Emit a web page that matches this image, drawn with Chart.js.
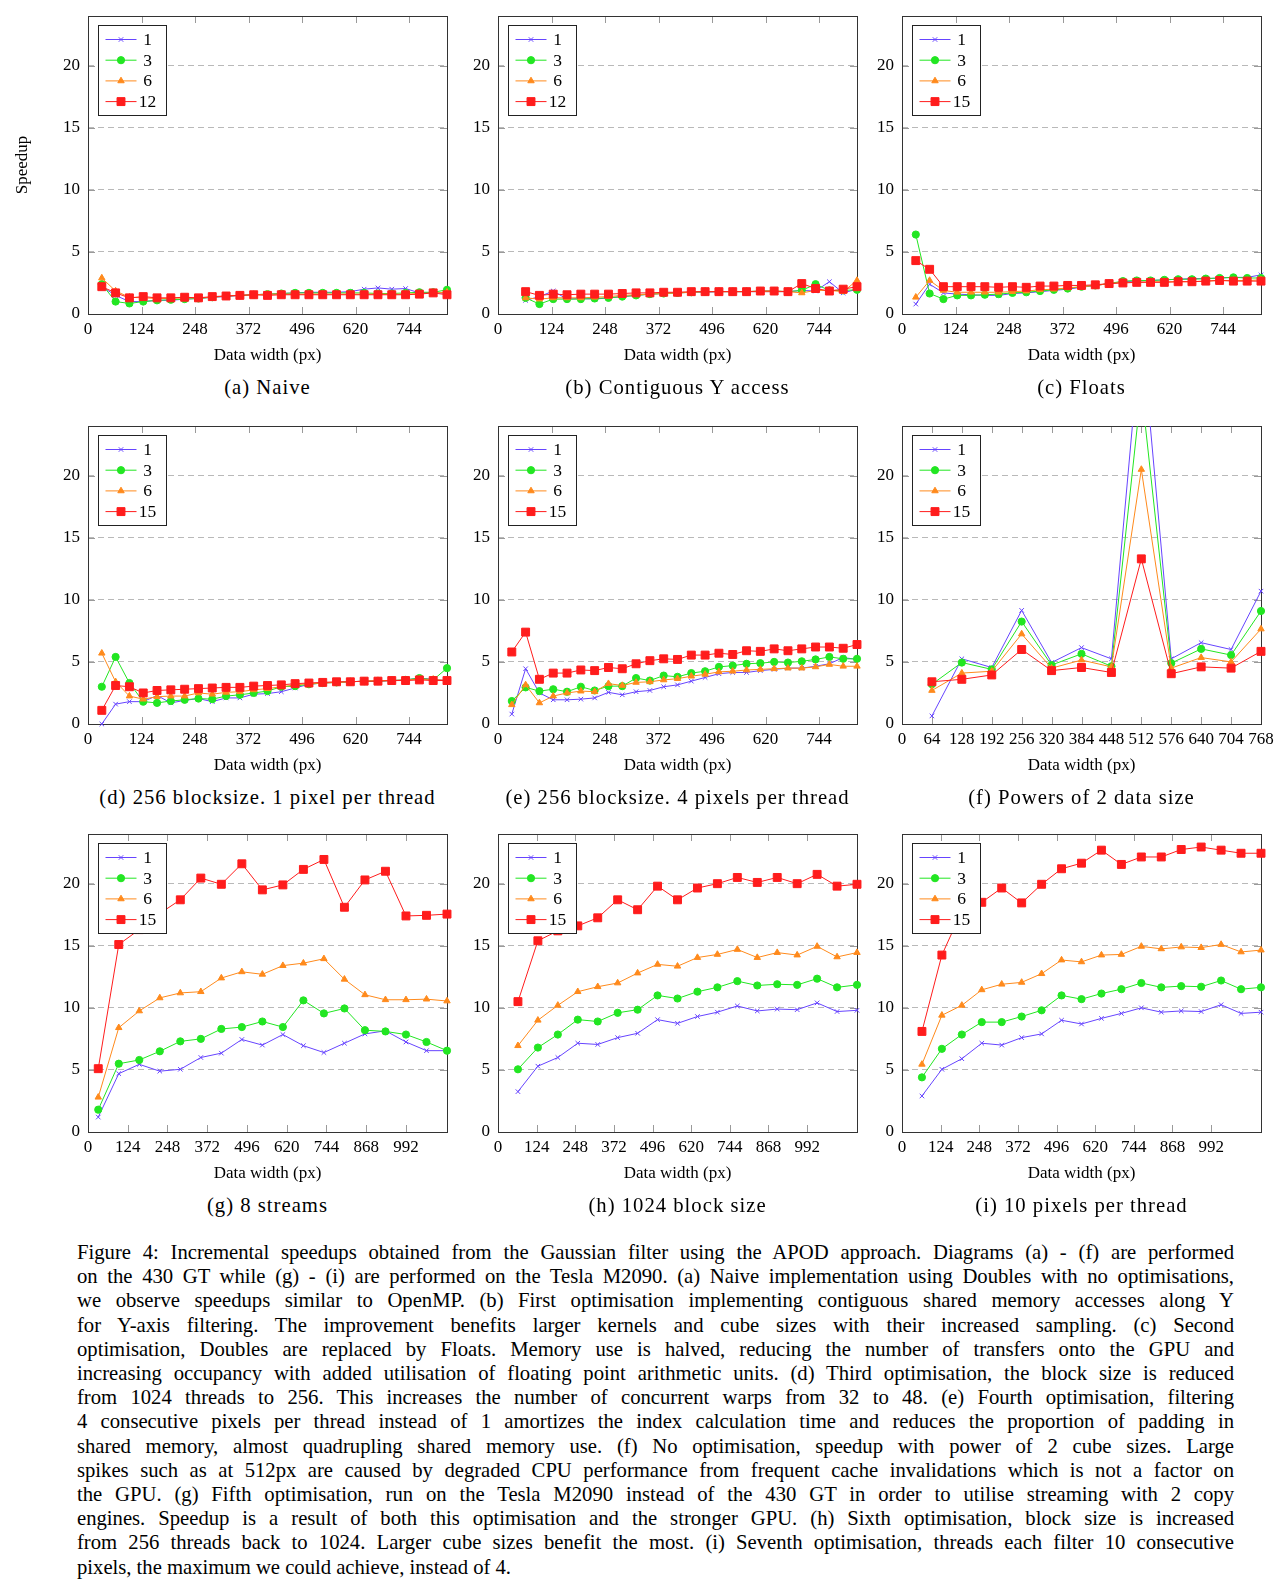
<!DOCTYPE html>
<html>
<head>
<meta charset="utf-8">
<script src="https://cdn.jsdelivr.net/npm/chart.js@4.4.0/dist/chart.umd.min.js"></script>
<style>
html,body{margin:0;overflow:hidden;}
body{background:#fff;width:1278px;height:1584px;position:relative;font-family:"Liberation Serif",serif;color:#000;}
canvas{position:absolute;}
.sub{position:absolute;font-size:20.7px;letter-spacing:1px;text-align:center;width:380px;line-height:22px;white-space:nowrap;}
.cap{position:absolute;left:77px;width:1157px;font-size:20.7px;white-space:nowrap;text-align:justify;text-align-last:justify;line-height:24px;}
.cap.last{text-align-last:left;}
</style>
</head>
<body>
<script>
// x positions (data width, px)
var xWide = [32,64,96,128,160,192,224,256,288,320,352,384,416,448,480,512,544,576,608,640,672,704,736,768,800,832];
var xB = [64,96,128,160,192,224,256,288,320,352,384,416,448,480,512,544,576,608,640,672,704,736,768,800,832];
var xF = [64,128,192,256,320,384,448,512,576,640,704,768];
var xG = [32,96,160,224,288,352,416,480,544,608,672,736,800,864,928,992,1056,1120];
var xHI = [64,128,192,256,320,384,448,512,576,640,704,768,832,896,960,1024,1088,1152];

// tick labels
var ticks124 = [0,124,248,372,496,620,744];
var ticks124w = [0,124,248,372,496,620,744,868,992];
var ticks64 = [0,64,128,192,256,320,384,448,512,576,640,704,768];
var yTicks = [0,5,10,15,20];
var lbl12 = ['1','3','6','12'];
var lbl15 = ['1','3','6','15'];

// (a) Naive
var a1 = [2.2,1.5,1.0,1.0,1.1,1.1,1.2,1.25,1.35,1.4,1.5,1.55,1.6,1.65,1.7,1.75,1.75,1.75,1.8,2.0,2.1,2.0,2.05,1.7,1.75,1.65];
var a3 = [2.4,1.0,0.85,1.0,1.1,1.15,1.2,1.25,1.35,1.45,1.5,1.55,1.6,1.65,1.7,1.7,1.7,1.7,1.7,1.7,1.65,1.65,1.7,1.75,1.75,1.95];
var a6 = [2.9,1.85,1.35,1.3,1.25,1.25,1.3,1.3,1.35,1.45,1.5,1.55,1.6,1.6,1.6,1.6,1.6,1.6,1.6,1.6,1.6,1.6,1.6,1.65,1.7,1.75];
var a12 = [2.2,1.7,1.3,1.4,1.3,1.3,1.35,1.3,1.4,1.45,1.5,1.55,1.5,1.55,1.55,1.55,1.55,1.55,1.55,1.55,1.55,1.55,1.55,1.6,1.7,1.55];
// (b) Contiguous Y access
var b1 = [1.1,1.4,1.85,1.2,1.25,1.2,1.3,1.4,1.5,1.6,1.65,1.7,1.75,1.75,1.8,1.8,1.8,1.8,1.8,1.8,1.9,1.85,2.6,1.7,2.0];
var b3 = [1.3,0.8,1.2,1.2,1.2,1.25,1.3,1.4,1.5,1.6,1.65,1.7,1.75,1.8,1.8,1.8,1.8,1.85,1.85,1.8,1.9,2.4,1.9,1.9,1.95];
var b6 = [1.3,1.2,1.3,1.3,1.3,1.35,1.4,1.5,1.55,1.6,1.65,1.7,1.75,1.8,1.8,1.8,1.8,1.8,1.8,1.8,1.7,1.9,1.9,1.8,2.7];
var b12 = [1.8,1.5,1.6,1.55,1.6,1.6,1.6,1.65,1.7,1.7,1.75,1.75,1.8,1.8,1.8,1.8,1.8,1.85,1.85,1.8,2.45,2.05,1.85,2.0,2.2];
// (c) Floats
var c1 = [0.8,2.4,1.7,1.6,1.55,1.5,1.5,1.65,1.7,1.8,1.9,2.0,2.15,2.3,2.45,2.6,2.65,2.7,2.75,2.8,2.85,2.85,2.9,2.95,2.95,3.15];
var c3 = [6.4,1.65,1.2,1.5,1.5,1.55,1.6,1.7,1.75,1.85,1.95,2.05,2.2,2.3,2.45,2.65,2.7,2.7,2.75,2.8,2.8,2.85,2.9,2.95,2.9,2.9];
var c6 = [1.35,2.7,1.9,1.75,1.75,1.75,1.75,1.8,1.85,1.95,2.0,2.1,2.2,2.3,2.45,2.55,2.55,2.6,2.6,2.6,2.6,2.65,2.7,2.7,2.7,2.75];
var c15 = [4.3,3.6,2.2,2.2,2.2,2.2,2.15,2.2,2.15,2.25,2.25,2.3,2.3,2.35,2.45,2.5,2.55,2.55,2.55,2.6,2.6,2.65,2.7,2.65,2.65,2.65];
// (d) 256 blocksize, 1 pixel per thread
var d1 = [0.0,1.6,1.8,1.8,2.3,1.7,1.9,2.05,1.8,2.1,2.1,2.4,2.45,2.6,2.9,3.2,3.3,3.35,3.4,3.45,3.45,3.5,3.55,3.7,3.6,3.5];
var d3 = [3.0,5.4,3.3,1.8,1.7,1.85,1.95,2.05,2.0,2.25,2.35,2.5,2.65,3.0,3.05,3.2,3.3,3.35,3.4,3.45,3.45,3.5,3.55,3.7,3.55,4.5];
var d6 = [5.7,3.4,2.25,2.0,2.2,2.25,2.25,2.5,2.4,2.55,2.6,2.75,2.85,3.0,3.15,3.25,3.3,3.35,3.4,3.45,3.5,3.5,3.55,3.6,3.6,3.5];
var d15 = [1.1,3.1,3.0,2.5,2.7,2.75,2.8,2.85,2.9,2.95,2.95,3.05,3.1,3.15,3.25,3.3,3.35,3.4,3.4,3.45,3.45,3.5,3.5,3.55,3.5,3.5];
// (e) 256 blocksize, 4 pixels per thread
var e1 = [0.8,4.45,2.5,1.95,1.95,2.0,2.1,2.55,2.35,2.6,2.7,3.0,3.15,3.45,3.75,4.05,4.15,4.15,4.3,4.4,4.5,4.5,4.65,4.85,5.35,5.2];
var e3 = [1.85,2.95,2.65,2.8,2.6,3.0,2.7,3.05,3.05,3.7,3.5,3.9,3.8,4.1,4.25,4.6,4.7,4.85,4.9,5.0,4.95,5.05,5.2,5.4,5.25,5.25];
var e6 = [1.55,3.15,1.7,2.25,2.5,2.65,2.6,3.25,3.1,3.35,3.4,3.55,3.65,3.85,4.0,4.2,4.25,4.35,4.4,4.45,4.5,4.5,4.6,4.8,4.65,4.65];
var e15 = [5.8,7.4,3.6,4.1,4.1,4.35,4.3,4.55,4.45,4.85,5.1,5.25,5.2,5.55,5.55,5.7,5.6,5.9,5.85,6.05,5.9,6.05,6.2,6.2,6.1,6.4];
// (f) Powers of 2
var f1 = [0.65,5.25,4.55,9.15,4.95,6.15,5.25,32,5.25,6.55,6.0,10.7];
var f3 = [3.2,4.95,4.4,8.25,4.75,5.65,4.65,27,4.9,6.05,5.55,9.1];
var f6 = [2.7,4.1,4.25,7.25,4.5,5.15,4.6,20.5,4.5,5.35,5.0,7.65];
var f15 = [3.4,3.6,3.95,6.0,4.3,4.55,4.15,13.3,4.05,4.6,4.5,5.85];
// (g) 8 streams
var g1 = [1.2,4.7,5.45,4.9,5.05,6.0,6.35,7.45,7.0,7.85,6.95,6.4,7.15,7.9,8.15,7.25,6.55,6.55];
var g3 = [1.8,5.5,5.8,6.5,7.3,7.5,8.3,8.45,8.9,8.45,10.6,9.55,9.95,8.2,8.1,7.85,7.25,6.55];
var g6 = [2.8,8.4,9.75,10.8,11.2,11.3,12.4,12.9,12.7,13.4,13.6,13.95,12.3,11.05,10.65,10.65,10.7,10.55];
var g15 = [5.1,15.1,16.3,17.6,18.7,20.45,19.95,21.6,19.5,19.9,21.15,21.95,18.1,20.3,21.0,17.4,17.45,17.55];
// (h) 1024 block size
var h1 = [3.25,5.3,6.0,7.15,7.05,7.6,7.95,9.05,8.75,9.3,9.65,10.15,9.75,9.9,9.85,10.4,9.7,9.8];
var h3 = [5.05,6.8,7.85,9.05,8.9,9.6,9.85,11.0,10.75,11.3,11.65,12.15,11.8,11.9,11.85,12.35,11.65,11.85];
var h6 = [6.95,9.0,10.2,11.3,11.7,12.0,12.8,13.5,13.35,14.05,14.3,14.7,14.05,14.45,14.25,14.95,14.1,14.45];
var h15 = [10.5,15.4,16.2,16.6,17.25,18.7,17.9,19.8,18.7,19.65,20.0,20.5,20.1,20.5,20.0,20.75,19.8,19.95];
// (i) 10 pixels per thread
var i1 = [2.9,5.05,5.9,7.15,7.0,7.6,7.9,9.0,8.7,9.15,9.55,10.0,9.65,9.75,9.7,10.25,9.55,9.65];
var i3 = [4.4,6.7,7.85,8.85,8.85,9.3,9.8,11.0,10.7,11.15,11.5,12.0,11.65,11.75,11.7,12.2,11.5,11.65];
var i6 = [5.45,9.4,10.2,11.45,11.9,12.05,12.75,13.85,13.7,14.25,14.3,14.95,14.75,14.9,14.85,15.1,14.5,14.65];
var i15 = [8.1,14.25,17.8,18.5,19.65,18.45,19.95,21.2,21.65,22.7,21.55,22.15,22.15,22.75,22.95,22.7,22.45,22.45];

var subCaptions = ['(a) Naive','(b) Contiguous Y access','(c) Floats',
  '(d) 256 blocksize. 1 pixel per thread','(e) 256 blocksize. 4 pixels per thread','(f) Powers of 2 data size',
  '(g) 8 streams','(h) 1024 block size','(i) 10 pixels per thread'];

var captionLines = [
 'Figure 4: Incremental speedups obtained from the Gaussian filter using the APOD approach. Diagrams (a) - (f) are performed',
 'on the 430 GT while (g) - (i) are performed on the Tesla M2090. (a) Naive implementation using Doubles with no optimisations,',
 'we observe speedups similar to OpenMP. (b) First optimisation implementing contiguous shared memory accesses along Y',
 'for Y-axis filtering. The improvement benefits larger kernels and cube sizes with their increased sampling. (c) Second',
 'optimisation, Doubles are replaced by Floats. Memory use is halved, reducing the number of transfers onto the GPU and',
 'increasing occupancy with added utilisation of floating point arithmetic units. (d) Third optimisation, the block size is reduced',
 'from 1024 threads to 256. This increases the number of concurrent warps from 32 to 48. (e) Fourth optimisation, filtering',
 '4 consecutive pixels per thread instead of 1 amortizes the index calculation time and reduces the proportion of padding in',
 'shared memory, almost quadrupling shared memory use. (f) No optimisation, speedup with power of 2 cube sizes. Large',
 'spikes such as at 512px are caused by degraded CPU performance from frequent cache invalidations which is not a factor on',
 'the GPU. (g) Fifth optimisation, run on the Tesla M2090 instead of the 430 GT in order to utilise streaming with 2 copy',
 'engines. Speedup is a result of both this optimisation and the stronger GPU. (h) Sixth optimisation, block size is increased',
 'from 256 threads back to 1024. Larger cube sizes benefit the most. (i) Seventh optimisation, threads each filter 10 consecutive',
 'pixels, the maximum we could achieve, instead of 4.'
];

var panels = [
  {x: xWide, s: [a1,a3,a6,a12], lbl: lbl12, xmax: 832, xt: ticks124},
  {x: xB, s: [b1,b3,b6,b12], lbl: lbl12, xmax: 832, xt: ticks124},
  {x: xWide, s: [c1,c3,c6,c15], lbl: lbl15, xmax: 832, xt: ticks124},
  {x: xWide, s: [d1,d3,d6,d15], lbl: lbl15, xmax: 832, xt: ticks124},
  {x: xWide, s: [e1,e3,e6,e15], lbl: lbl15, xmax: 832, xt: ticks124},
  {x: xF, s: [f1,f3,f6,f15], lbl: lbl15, xmax: 768, xt: ticks64},
  {x: xG, s: [g1,g3,g6,g15], lbl: lbl15, xmax: 1120, xt: ticks124w},
  {x: xHI, s: [h1,h3,h6,h15], lbl: lbl15, xmax: 1152, xt: ticks124w},
  {x: xHI, s: [i1,i3,i6,i15], lbl: lbl15, xmax: 1152, xt: ticks124w}
];

var colLeft = [88, 498, 902];
var rowTop = [16, 426, 834];
var plotW = 359, plotH = 298;

var colors = ['#6644ff', '#22e622', '#ff8a1c', '#ff1c1c'];
var styles = ['crossRot', 'circle', 'triangle', 'rect'];
var radii = [3.2, 3.6, 3.7, 5.6];

Chart.defaults.font.family = '"Liberation Serif", serif';
Chart.defaults.color = '#000';

// frame, inward ticks and the legend box inside the plot
var pgfLook = {
  id: 'pgfLook',
  beforeDatasetsDraw: function(chart) {
    var ctx = chart.ctx, a = chart.chartArea, sx = chart.scales.x, sy = chart.scales.y;
    ctx.save();
    ctx.strokeStyle = '#9a9a9a';
    ctx.lineWidth = 1;
    sx.ticks.forEach(function(t) {
      var px = Math.round(sx.getPixelForValue(t.value)) + 0.5;
      if (px <= a.left + 2 || px >= a.right - 2) return;
      ctx.beginPath();
      ctx.moveTo(px, a.bottom); ctx.lineTo(px, a.bottom - 7);
      ctx.moveTo(px, a.top); ctx.lineTo(px, a.top + 7);
      ctx.stroke();
    });
    sy.ticks.forEach(function(t) {
      var py = Math.round(sy.getPixelForValue(t.value)) + 0.5;
      if (py >= a.bottom - 2) return;
      ctx.beginPath();
      ctx.moveTo(a.left, py); ctx.lineTo(a.left + 7, py);
      ctx.moveTo(a.right, py); ctx.lineTo(a.right - 7, py);
      ctx.stroke();
    });
    ctx.strokeStyle = '#333';
    ctx.strokeRect(Math.round(a.left) + 0.5, Math.round(a.top) + 0.5, Math.round(a.right - a.left), Math.round(a.bottom - a.top));
    ctx.restore();
  },
  afterDatasetsDraw: function(chart) {
    var ctx = chart.ctx, a = chart.chartArea;
    var bx = Math.round(a.left) + 10.5, by = Math.round(a.top) + 9.5, bw = 68, bh = 90;
    ctx.save();
    ctx.fillStyle = '#fff';
    ctx.fillRect(bx, by, bw, bh);
    ctx.strokeStyle = '#222';
    ctx.lineWidth = 1;
    ctx.strokeRect(bx, by, bw, bh);
    chart.data.datasets.forEach(function(ds, i) {
      var y = by + 14 + i * 20.7;
      ctx.strokeStyle = ds.borderColor;
      ctx.lineWidth = 1;
      ctx.beginPath(); ctx.moveTo(bx + 7, y); ctx.lineTo(bx + 38, y); ctx.stroke();
      ctx.fillStyle = ds.pointBackgroundColor;
      Chart.helpers.drawPoint(ctx, {pointStyle: ds.pointStyle, radius: ds.pointRadius, borderWidth: 1, rotation: 0}, bx + 22.5, y);
      ctx.fillStyle = '#000';
      ctx.font = '17.5px "Liberation Serif"';
      ctx.textAlign = 'center';
      ctx.textBaseline = 'middle';
      ctx.fillText(ds.label, bx + 49, y + 1);
    });
    ctx.restore();
  }
};

panels.forEach(function(p, k) {
  var col = k % 3, row = Math.floor(k / 3);
  var yW = k === 0 ? 80 : 48;
  var padT = 10, padR = 16, xH = 56;
  var left = colLeft[col] - yW, top = rowTop[row] - padT;
  var cv = document.createElement('canvas');
  cv.width = yW + plotW + padR;
  cv.height = padT + plotH + xH;
  cv.style.left = left + 'px';
  cv.style.top = top + 'px';
  document.body.appendChild(cv);

  var datasets = p.s.map(function(vals, j) {
    return {
      label: p.lbl[j],
      data: vals.map(function(v, n) { return {x: p.x[n], y: v}; }),
      borderColor: colors[j],
      backgroundColor: colors[j],
      pointBackgroundColor: colors[j],
      pointBorderColor: colors[j],
      pointStyle: styles[j],
      pointRadius: radii[j],
      pointBorderWidth: 1,
      borderWidth: 1,
      tension: 0,
      order: 3 - j,
      clip: {left: 8, right: 8, top: 0, bottom: 8}
    };
  });

  new Chart(cv.getContext('2d'), {
    type: 'line',
    data: {datasets: datasets},
    plugins: [pgfLook],
    options: {
      responsive: false,
      animation: false,
      layout: {padding: {top: padT, right: padR, left: 0, bottom: 0}},
      plugins: {legend: {display: false}, tooltip: {enabled: false}},
      scales: {
        x: {
          type: 'linear', min: 0, max: p.xmax,
          afterBuildTicks: function(s) { s.ticks = p.xt.map(function(v) { return {value: v}; }); },
          afterFit: function(s) { s.height = xH; s.paddingLeft = 0; s.paddingRight = 0; },
          grid: {display: false, drawTicks: false},
          border: {display: false},
          ticks: {font: {size: 17}, padding: 5, maxRotation: 0, autoSkip: false},
          title: {display: true, text: 'Data width (px)', font: {size: 17}}
        },
        y: {
          min: 0, max: 24,
          afterBuildTicks: function(s) { s.ticks = yTicks.map(function(v) { return {value: v}; }); },
          afterFit: function(s) { s.width = yW; s.paddingTop = 0; s.paddingBottom = 0; },
          grid: {
            drawTicks: false,
            color: function(c) { return c.tick && c.tick.value === 0 ? 'rgba(0,0,0,0)' : '#b9b9b9'; }
          },
          border: {display: false, dash: [6, 4]},
          ticks: {font: {size: 17}, padding: 8},
          title: {display: k === 0, text: 'Speedup', font: {size: 17}}
        }
      }
    }
  });

  var sc = document.createElement('div');
  sc.className = 'sub';
  sc.textContent = subCaptions[k];
  sc.style.left = (colLeft[col] + plotW / 2 - 190) + 'px';
  sc.style.top = (rowTop[row] + plotH + 62) + 'px';
  document.body.appendChild(sc);
});

// caption: widen letters a little so the serif text fills the lines like the original
var capW = 1157, avgLs = 0;
captionLines.forEach(function(t, n) {
  var d = document.createElement('div');
  var isLast = n === captionLines.length - 1;
  d.className = 'cap' + (isLast ? ' last' : '');
  d.style.top = (1240 + n * 24.2) + 'px';
  var sp = document.createElement('span');
  sp.textContent = t;
  d.appendChild(sp);
  document.body.appendChild(d);
  var w = sp.getBoundingClientRect().width;
  var ls;
  if (!isLast) {
    ls = (capW - w) * 0.65 / t.length;
    if (w + ls * t.length > capW - 2) ls = (capW - 2 - w) / t.length;
    avgLs += ls / (captionLines.length - 1);
  } else {
    ls = avgLs;
  }
  sp.style.letterSpacing = ls.toFixed(3) + 'px';
});
</script>
</body>
</html>
